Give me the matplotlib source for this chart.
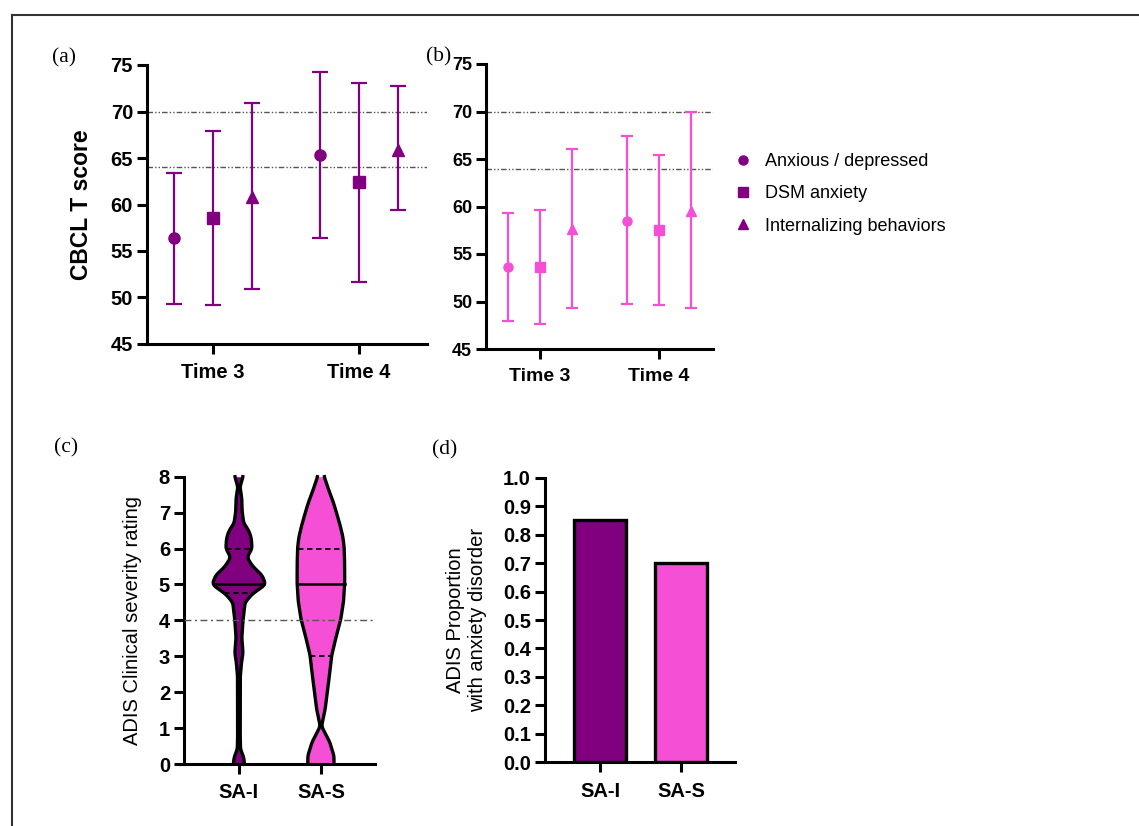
import numpy as np
import matplotlib
matplotlib.use('Agg')
import matplotlib.pyplot as plt
from matplotlib.lines import Line2D

PURPLE = '#800080'
PINK = '#F54FD6'
CUT_GREY = '#555555'

# CBCL T scores, rows follow `measures`, columns follow `times`
times = ['Time 3', 'Time 4']
measures = ['Anxious / depressed', 'DSM anxiety', 'Internalizing behaviors']
marker_shapes = ['o', 's', '^']

sai_mean = [[56.4, 65.3], [58.6, 62.4], [60.8, 65.9]]
sai_low = [[49.3, 56.4], [49.2, 51.7], [50.9, 59.4]]
sai_high = [[63.4, 74.3], [67.9, 73.1], [70.9, 72.7]]

sas_mean = [[53.6, 58.5], [53.6, 57.5], [57.6, 59.5]]
sas_low = [[48.0, 49.7], [47.6, 49.6], [49.3, 49.3]]
sas_high = [[59.3, 67.4], [59.6, 65.4], [66.1, 69.9]]

cbcl_cutoffs = [64, 70]

# ADIS severity: violin outline (rating, half width) per group
groups = ['SA-I', 'SA-S']
sai_rating = [0.0, 0.2, 0.4, 0.7, 1.5, 2.4, 2.8, 3.1, 3.5, 4.0, 4.5, 4.75,
              4.9, 5.0, 5.25, 5.5, 5.75, 6.0, 6.3, 6.5, 6.7, 7.0, 7.4, 7.7, 8.0]
sai_halfwidth = [0.069, 0.057, 0.02, 0.016, 0.016, 0.016, 0.03, 0.05, 0.035,
                 0.05, 0.075, 0.17, 0.27, 0.325, 0.285, 0.17, 0.10, 0.16,
                 0.15, 0.12, 0.06, 0.04, 0.035, 0.012, 0.05]
sas_rating = [0.0, 0.22, 0.6, 1.05, 1.5, 2.2, 3.0, 3.4, 4.0, 4.5, 5.0, 5.5,
              6.0, 6.3, 6.6, 7.0, 7.3, 7.6, 8.0]
sas_halfwidth = [0.16, 0.16, 0.11, 0.008, 0.05, 0.09, 0.13, 0.17, 0.24, 0.275,
                 0.29, 0.29, 0.285, 0.27, 0.24, 0.19, 0.15, 0.10, 0.04]
sai_quartiles = [4.75, 6.0]
sas_quartiles = [3.0, 6.0]
medians = [5.0, 5.0]
adis_cutoff = 4

# proportion with an anxiety disorder
proportions = [0.85, 0.70]

plt.rcParams['font.family'] = ['Liberation Sans', 'DejaVu Sans']

W, H = 1139, 826


def frac(left, top, right, bottom):
    return [left / W, 1 - bottom / H, (right - left) / W, (bottom - top) / H]


def style_axes(ax, size=14.5):
    for s in ['top', 'right']:
        ax.spines[s].set_visible(False)
    for s in ['left', 'bottom']:
        ax.spines[s].set_linewidth(2.2)
    ax.tick_params(width=2.2, length=7, labelsize=size, pad=3)
    ax.tick_params(axis='x', pad=7)
    for lab in ax.get_xticklabels() + ax.get_yticklabels():
        lab.set_fontweight('bold')


def cbcl_panel(ax, mean, low, high, color, ms, cap, size):
    offsets = [-0.27, 0.0, 0.27]
    for y in cbcl_cutoffs:
        ax.axhline(y, color=CUT_GREY, lw=1.0, dashes=(4, 1.5, 1, 1.5, 1, 1.5),
                   zorder=1)
    for i, m in enumerate(marker_shapes):
        x = np.arange(len(times)) + offsets[i]
        mu = np.array(mean[i])
        err = [mu - np.array(low[i]), np.array(high[i]) - mu]
        ax.errorbar(x, mu, yerr=err, fmt=m, color=color, ms=ms,
                    elinewidth=1.6, capsize=cap, capthick=1.6, zorder=3)
    ax.set_ylim(45, 75)
    ax.set_yticks(np.arange(45, 76, 5))
    ax.set_xticks(range(len(times)))
    ax.set_xticklabels(times)
    style_axes(ax, size)


def violin(ax, x0, ys, hws, color, quartiles, median):
    fine = np.linspace(ys[0], ys[-1], 400)
    w = np.interp(fine, ys, hws)
    k = 9
    padded = np.pad(w, k // 2, mode='edge')
    w = np.convolve(padded, np.ones(k) / k, mode='valid')
    ax.fill_betweenx(fine, x0 - w, x0 + w, color=color, lw=0, zorder=2)
    for side in (-1, 1):
        ax.plot(x0 + side * w, fine, color='black', lw=2.4, zorder=3,
                clip_on=False)
    for q in quartiles:
        hw = np.interp(q, fine, w)
        ax.plot([x0 - hw, x0 + hw], [q, q], color='black', lw=1.3,
                dashes=(3, 2), zorder=3)
    hw = np.interp(median, fine, w)
    ax.plot([x0 - hw, x0 + hw], [median, median], color='black', lw=1.8,
            zorder=3)


fig = plt.figure(figsize=(W / 100, H / 100), dpi=100)

# (a) SA-I CBCL scores
ax_a = fig.add_axes(frac(147, 65, 427, 344))
cbcl_panel(ax_a, sai_mean, sai_low, sai_high, PURPLE, 8, 5.5, 14.5)
ax_a.set_xlim(-0.452, 1.466)
ax_a.set_ylabel('CBCL T score', fontsize=16.5, fontweight='bold')
ax_a.yaxis.set_label_coords(-0.193, 0.5)

# (b) SA-S CBCL scores
ax_b = fig.add_axes(frac(486, 64, 713, 349))
cbcl_panel(ax_b, sas_mean, sas_low, sas_high, PINK, 6.5, 4.5, 13)
ax_b.set_xlim(-0.454, 1.454)
ax_b.tick_params(axis='x', labelsize=14)

# (c) ADIS severity violins
ax_c = fig.add_axes(frac(184, 476.7, 375, 764))
violin(ax_c, 0, sai_rating, sai_halfwidth, PURPLE, sai_quartiles, medians[0])
violin(ax_c, 1, sas_rating, sas_halfwidth, PINK, sas_quartiles, medians[1])
ax_c.axhline(adis_cutoff, color=CUT_GREY, lw=1.0, dashes=(5, 2.5, 1.5, 2.5),
             zorder=4)
ax_c.set_xlim(-0.67, 1.66)
ax_c.set_ylim(0, 8)
ax_c.set_yticks(range(0, 9))
ax_c.set_xticks([0, 1])
ax_c.set_xticklabels(groups)
style_axes(ax_c)
ax_c.set_ylabel('ADIS Clinical severity rating', fontsize=14.5)
ax_c.yaxis.set_label_coords(-0.22, 0.5)

# (d) proportion with anxiety disorder
ax_d = fig.add_axes(frac(545, 477.7, 735, 762.3))
ax_d.bar([0, 1], proportions, width=0.65, color=[PURPLE, PINK],
         edgecolor='black', linewidth=2.4, zorder=2)
ax_d.set_xlim(-0.68, 1.67)
ax_d.set_ylim(0, 1.0)
ax_d.set_yticks(np.round(np.arange(0, 1.01, 0.1), 1))
ax_d.set_yticklabels([f'{v:.1f}' for v in np.arange(0, 1.01, 0.1)])
ax_d.set_xticks([0, 1])
ax_d.set_xticklabels(groups)
style_axes(ax_d)
ax_d.set_ylabel('ADIS Proportion\nwith anxiety disorder', fontsize=14.5,
                linespacing=1.2)
ax_d.yaxis.set_label_coords(-0.305, 0.5)

# legend for the CBCL measures
handles = [Line2D([], [], linestyle='none', marker=m, color=PURPLE, ms=6.5)
           for m in marker_shapes]
fig.legend(handles, measures, loc='upper left',
           bbox_to_anchor=(734 / W, 1 - 153 / H), frameon=False, fontsize=13,
           handlelength=1.0, handletextpad=0.7, labelspacing=0.85,
           borderpad=0, borderaxespad=0)

# panel letters
for letter, x, y in [('(a)', 52, 58), ('(b)', 426, 57),
                     ('(c)', 54, 448), ('(d)', 432, 450)]:
    fig.text(x / W, 1 - y / H, letter, family='Liberation Serif',
             fontsize=15.5, va='center', ha='left')

# outer frame (top and left edges)
fig.add_artist(Line2D([12 / W, 1], [1 - 15 / H, 1 - 15 / H],
                      transform=fig.transFigure, color='#333333', lw=1.5))
fig.add_artist(Line2D([12 / W, 12 / W], [0, 1 - 15 / H],
                      transform=fig.transFigure, color='#333333', lw=1.5))

fig.savefig('out.png', dpi=100)
